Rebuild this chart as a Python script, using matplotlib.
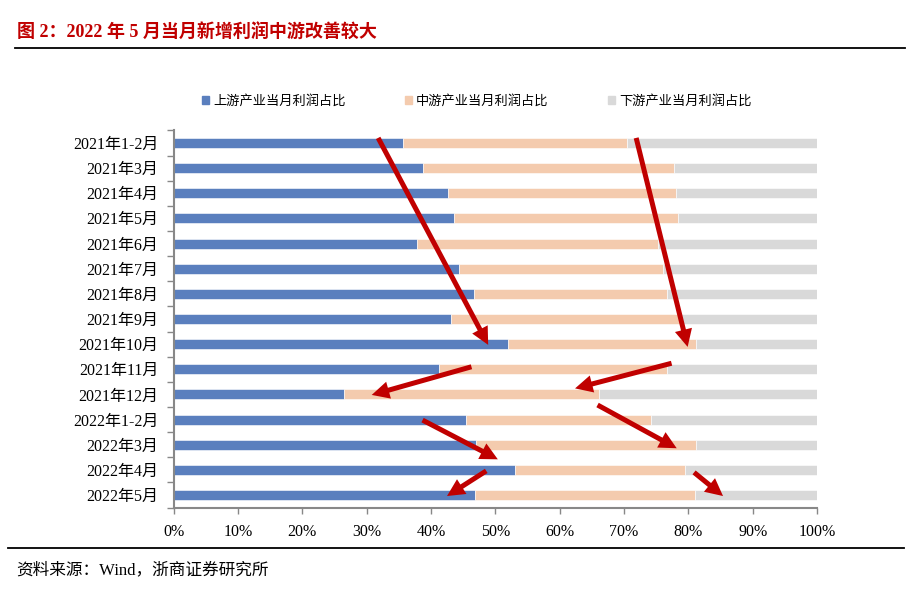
import matplotlib
matplotlib.use("Agg")
import numpy as np
import matplotlib.pyplot as plt
from matplotlib.patches import Patch

plt.rcParams["font.family"] = ["Liberation Serif", "Noto Sans CJK SC"]
plt.rcParams["axes.unicode_minus"] = False

# ---- data (share of monthly new profit, %) ----
months = ["2021年1-2月", "2021年3月", "2021年4月", "2021年5月", "2021年6月",
          "2021年7月", "2021年8月", "2021年9月", "2021年10月", "2021年11月",
          "2021年12月", "2022年1-2月", "2022年3月", "2022年4月", "2022年5月"]
upstream = [35.7, 38.8, 42.6, 43.6, 37.9, 44.4, 46.7, 43.1, 52.0, 41.3,
            26.5, 45.4, 47.0, 53.0, 46.9]
midstream = [34.8, 39.0, 35.5, 34.8, 37.4, 31.6, 30.0, 35.6, 29.2, 35.4,
             39.6, 28.8, 34.2, 26.5, 34.2]
series_names = ["上游产业当月利润占比", "中游产业当月利润占比", "下游产业当月利润占比"]

# arrows: (x_start %, row_start, x_end %, row_end)
arrows = [(31.8, -0.2, 48.9, 8.03), (71.9, -0.2, 79.9, 8.11),
          (46.3, 8.9, 30.8, 10.02), (77.4, 8.76, 62.4, 9.76),
          (38.7, 11.02, 50.4, 12.58), (65.9, 10.42, 78.2, 12.14),
          (48.6, 13.04, 42.5, 14.04), (80.9, 13.1, 85.4, 14.04)]

C_UP = "#5A7FBE"
C_MID = "#F4CBAE"
C_DOWN = "#D9D9D9"
C_RED = "#C00000"

up = np.array(upstream)
mid = np.array(midstream)
down = 100 - up - mid
y = np.arange(len(months))

fig = plt.figure(figsize=(9.22, 5.91), dpi=100)
ax = fig.add_axes([0.1882, 0.1411, 0.8861 - 0.1882, 0.7794 - 0.1411])

h = 0.4
ax.barh(y, up, height=h, color=C_UP, edgecolor="white", linewidth=0.4)
ax.barh(y, mid, left=up, height=h, color=C_MID, edgecolor="white", linewidth=0.4)
ax.barh(y, down, left=up + mid, height=h, color=C_DOWN, edgecolor="white", linewidth=0.4)

ax.set_xlim(0, 100)
ax.set_ylim(len(months) - 0.5, -0.5)
ax.set_xticks(np.arange(0, 101, 10))
ax.set_xticklabels([f"{v}%" for v in range(0, 101, 10)], fontsize=11.5)
ax.set_yticks(y)
ax.set_yticklabels(months, fontsize=11.5)
ax.set_yticks(np.arange(-0.5, len(months), 1), minor=True)
ax.tick_params(axis="y", which="major", length=0, pad=11)
ax.tick_params(axis="y", which="minor", length=5, color="#888888", width=1)
ax.tick_params(axis="x", length=4, color="#888888", width=1, pad=8)
for s in ["top", "right"]:
    ax.spines[s].set_visible(False)
for s in ["left", "bottom"]:
    ax.spines[s].set_color("#888888")
    ax.spines[s].set_linewidth(1.5)

for x0, y0, x1, y1 in arrows:
    ax.annotate("", xy=(x1, y1), xytext=(x0, y0),
                arrowprops=dict(arrowstyle="simple,tail_width=0.3,head_width=1.05,head_length=1.05",
                                mutation_scale=12, color=C_RED, lw=0,
                                shrinkA=0, shrinkB=0),
                annotation_clip=False)

handles = [Patch(color=c, label=n) for c, n in zip([C_UP, C_MID, C_DOWN], series_names)]
fig.legend(handles=handles, loc="center", bbox_to_anchor=(0.517, 0.829), ncol=3,
           frameon=False, fontsize=9.5, handlelength=0.55, handleheight=0.55,
           handletextpad=0.3, columnspacing=4.5)

# title and source
fig.text(0.018, 0.944, "图 2：2022 年 5 月当月新增利润中游改善较大", fontsize=13,
         fontweight="bold", color=C_RED, ha="left", va="center")
fig.add_artist(plt.Line2D([0.016, 0.982], [0.919, 0.919], color="black", lw=1.3))
fig.add_artist(plt.Line2D([0.009, 0.98], [0.073, 0.073], color="black", lw=1.3))
fig.text(0.018, 0.035, "资料来源：Wind，浙商证券研究所", fontsize=12,
         ha="left", va="center")

fig.savefig("out.png", dpi=100)
